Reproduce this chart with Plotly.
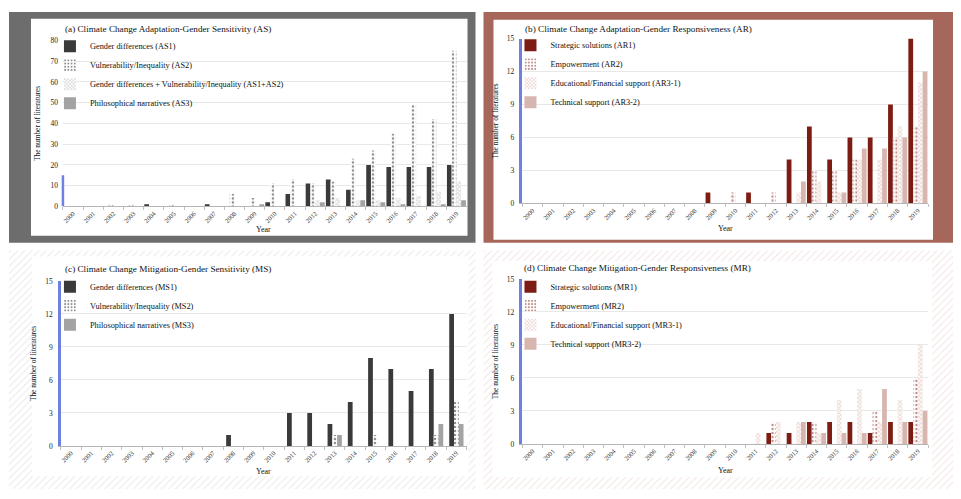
import plotly.graph_objects as go

# ---------------- data ----------------
years = ["2000", "2001", "2002", "2003", "2004", "2005", "2006", "2007", "2008", "2009",
         "2010", "2011", "2012", "2013", "2014", "2015", "2016", "2017", "2018", "2019"]

# (a) Adaptation - Gender Sensitivity
AS1 = [0, 0, 0, 0, 1, 0, 0, 1, 0, 0, 2, 6, 11, 13, 8, 20, 19, 19, 19, 20]
AS2 = [0, 0, 1, 1, 0, 1, 0, 0, 6, 4, 11, 13, 11, 12, 23, 27, 35, 49, 42, 75]
AS12 = [0, 0, 0, 0, 0, 0, 0, 0, 0, 0, 0, 0, 3, 4, 3, 3, 4, 5, 7, 12]
AS3 = [0, 0, 0, 0, 0, 0, 0, 0, 0, 1, 0, 0, 2, 0, 3, 2, 1, 0, 1, 3]

# (b) Adaptation - Gender Responsiveness
AR1 = [0, 0, 0, 0, 0, 0, 0, 0, 0, 1, 0, 1, 0, 4, 7, 4, 6, 6, 9, 15]
AR2 = [0, 0, 0, 0, 0, 0, 0, 0, 0, 0, 1, 0, 1, 0, 3, 3, 4, 0, 6, 7]
AR31 = [0, 0, 0, 0, 0, 0, 0, 0, 0, 0, 0, 0, 0, 1, 2, 1, 4, 4, 7, 11]
AR32 = [0, 0, 0, 0, 0, 0, 0, 0, 0, 0, 0, 0, 0, 2, 0, 1, 5, 5, 6, 12]

# (c) Mitigation - Gender Sensitivity
MS1 = [0, 0, 0, 0, 0, 0, 0, 0, 1, 0, 0, 3, 3, 2, 4, 8, 7, 5, 7, 12]
MS2 = [0, 0, 0, 0, 0, 0, 0, 0, 0, 0, 0, 0, 0, 1, 0, 1, 0, 0, 1, 4]
MS3 = [0, 0, 0, 0, 0, 0, 0, 0, 0, 0, 0, 0, 0, 1, 0, 0, 0, 0, 2, 2]

# (d) Mitigation - Gender Responsiveness
MR1 = [0, 0, 0, 0, 0, 0, 0, 0, 0, 0, 0, 0, 1, 1, 2, 2, 2, 1, 2, 2]
MR2 = [0, 0, 0, 0, 0, 0, 0, 0, 0, 0, 0, 0, 2, 0, 2, 0, 0, 3, 0, 6]
MR31 = [0, 0, 0, 0, 0, 0, 0, 0, 0, 0, 0, 1, 2, 2, 1, 4, 5, 2, 4, 9]
MR32 = [0, 0, 0, 0, 0, 0, 0, 0, 0, 0, 0, 0, 0, 2, 1, 1, 1, 5, 2, 3]

titles = ["(a) Climate Change Adaptation-Gender Sensitivity (AS)",
          "(b) Climate Change Adaptation-Gender Responsiveness (AR)",
          "(c) Climate Change Mitigation-Gender Sensitivity (MS)",
          "(d) Climate Change Mitigation-Gender Responsiveness (MR)"]
x_title = "Year"
y_title = "The number of literatures"

# ---------------- styling ----------------
SW, SH = 961, 499          # browser window
OFF = 8                    # default body margin of the html page
W, H = SW - OFF, SH - OFF  # figure size
FONT = "Liberation Serif"

def px(x):  # screen pixel -> paper
    return (x - OFF) / W

def py(y):
    return 1 - (y - OFF) / H

fig = go.Figure()

# --- background panels in a hidden pixel-space subplot (drawn first) ---
def rect(x0, y0, x1, y1, color=None, pattern=None):
    kw = dict(x=[x0, x1, x1, x0, x0], y=[y0, y0, y1, y1, y0], mode="lines",
              fill="toself", line=dict(width=0), hoverinfo="skip", showlegend=False,
              xaxis="x", yaxis="y")
    if pattern:
        kw["fillcolor"] = "white"
        kw["fillpattern"] = pattern
    else:
        kw["fillcolor"] = color
    fig.add_trace(go.Scatter(**kw))

rect(5, 5, 475, 243, color="#6d6d6d")
rect(483, 5, 957, 243, color="#a7665a")
rect(5, 251, 475, 494, pattern=dict(shape="/", fgcolor="#d2d2d2", bgcolor="white", size=5, solidity=0.2))
rect(483, 251, 957, 494, pattern=dict(shape="/", fgcolor="#e4cac4", bgcolor="white", size=5, solidity=0.2))
rect(30, 15, 467, 236, color="white")
rect(493, 16, 933, 240, color="white")
rect(31, 257, 468, 481, color="white")
rect(492, 262, 932, 482, color="white")

# --- bar styles ---
def solid(c):
    return dict(color=c, line=dict(width=0))

def dotted(c):
    return dict(color="white", line=dict(width=0),
                pattern=dict(shape=".", fgcolor=c, bgcolor="white", size=4, solidity=0.3))

def hatched(c):
    return dict(color="white", line=dict(width=0),
                pattern=dict(shape="x", fgcolor=c, bgcolor="white", size=3, solidity=0.55))

DARK = "#3a3a3a"
GREY = "#a3a3a3"
RED = "#7d1c12"
PINK = "#d6b6af"

panels = [
    dict(ax="2", legend="legend", series=[
        ("Gender differences (AS1)", AS1, solid(DARK)),
        ("Vulnerability/Inequality (AS2)", AS2, dotted("#1a1a1a")),
        ("Gender differences + Vulnerability/Inequality (AS1+AS2)", AS12, hatched("#b4b4b4")),
        ("Philosophical narratives (AS3)", AS3, solid(GREY))]),
    dict(ax="3", legend="legend2", series=[
        ("Strategic solutions (AR1)", AR1, solid(RED)),
        ("Empowerment (AR2)", AR2, dotted(RED)),
        ("Educational/Financial support (AR3-1)", AR31, hatched("#d8b2aa")),
        ("Technical support (AR3-2)", AR32, solid(PINK))]),
    dict(ax="4", legend="legend3", series=[
        ("Gender differences (MS1)", MS1, solid(DARK)),
        ("Vulnerability/Inequality (MS2)", MS2, dotted("#1a1a1a")),
        ("Philosophical narratives (MS3)", MS3, solid(GREY))]),
    dict(ax="5", legend="legend4", series=[
        ("Strategic solutions (MR1)", MR1, solid(RED)),
        ("Empowerment (MR2)", MR2, dotted(RED)),
        ("Educational/Financial support (MR3-1)", MR31, hatched("#d8b2aa")),
        ("Technical support (MR3-2)", MR32, solid(PINK))]),
]

BW = 0.235
for p in panels:
    n = len(p["series"])
    start = -n * BW / 2
    for i, (name, vals, marker) in enumerate(p["series"]):
        fig.add_trace(go.Bar(
            x=years, y=vals, name=name, marker=marker,
            width=BW, offset=start + i * BW,
            xaxis="x" + p["ax"], yaxis="y" + p["ax"], legend=p["legend"],
            hovertemplate="%{x}: %{y}<extra>" + name + "</extra>"))

# --- axes ---
domains = {
    "2": dict(x=(62, 466), y=(206, 37), rng=80, dt=10),
    "3": dict(x=(522, 928), y=(203, 35), rng=15, dt=3),
    "4": dict(x=(60, 466), y=(450, 282), rng=15, dt=3),
    "5": dict(x=(522, 928), y=(448, 280), rng=15, dt=3),
}

layout = dict(
    width=W, height=H, margin=dict(l=0, r=0, t=0, b=0),
    paper_bgcolor="white", plot_bgcolor="rgba(0,0,0,0)",
    barmode="overlay", font=dict(family=FONT, color="#111111"),
    xaxis=dict(domain=[0, 1], range=[OFF, SW], visible=False, fixedrange=True),
    yaxis=dict(domain=[0, 1], range=[SH, OFF], visible=False, fixedrange=True),
)

blue = "#6f80e0"
for ax, d in domains.items():
    layout["xaxis" + ax] = dict(
        domain=[px(d["x"][0]), px(d["x"][1])], anchor="y" + ax,
        type="category", range=[-0.5, 19.5], tickangle=-45,
        tickfont=dict(family=FONT, size=6.5, color="#333"),
        showline=True, linecolor="#b5b5b5", linewidth=1,
        ticks="outside", ticklen=3, tickcolor="#c0c0c0", tickson="boundaries",
        showgrid=False, zeroline=False)
    layout["yaxis" + ax] = dict(
        domain=[py(d["y"][0]), py(d["y"][1])], anchor="x" + ax,
        range=[0, d["rng"]], dtick=d["dt"], tick0=0,
        tickfont=dict(family=FONT, size=7.5, color="#222"),
        showgrid=True, gridcolor="#e8e8e8", gridwidth=1, zeroline=False,
        showline=(ax != "2"), linecolor=blue, linewidth=2.5,
        ticks="", ticklabelstandoff=4,
        title=dict(text=y_title, font=dict(family=FONT, size=7.4), standoff=8))

# legends
leg_pos = [("legend", 49, 28), ("legend2", 510, 27), ("legend3", 49, 273), ("legend4", 510, 273)]
for key, lx, ly in leg_pos:
    layout[key] = dict(x=px(lx), y=py(ly), xanchor="left", yanchor="top",
                       bgcolor="rgba(0,0,0,0)", font=dict(family=FONT, size=8.3, color="#111"),
                       tracegroupgap=0, itemwidth=30, traceorder="normal")

fig.update_layout(**layout)

# panel titles
title_pos = [(62, 25), (523, 25), (62, 270), (522, 269)]
for t, (tx, ty) in zip(titles, title_pos):
    fig.add_annotation(text=t, x=px(tx), y=py(ty), xref="paper", yref="paper",
                       xanchor="left", yanchor="middle", showarrow=False,
                       font=dict(family=FONT, size=9.2, color="#111"))

# x-axis titles
for ax, (tx, ty) in zip(["2", "3", "4", "5"], [(263, 230), (725, 229), (263, 476), (725, 475)]):
    fig.add_annotation(text=x_title, x=px(tx), y=py(ty), xref="paper", yref="paper",
                       xanchor="center", yanchor="middle", showarrow=False,
                       font=dict(family=FONT, size=8, color="#111"))

# blue marker on y-axis of panel (a)
fig.add_shape(type="line", xref="x2 domain", yref="y2", x0=0, x1=0, y0=0, y1=15,
              line=dict(color=blue, width=2.5))

fig.write_html("out.html")
